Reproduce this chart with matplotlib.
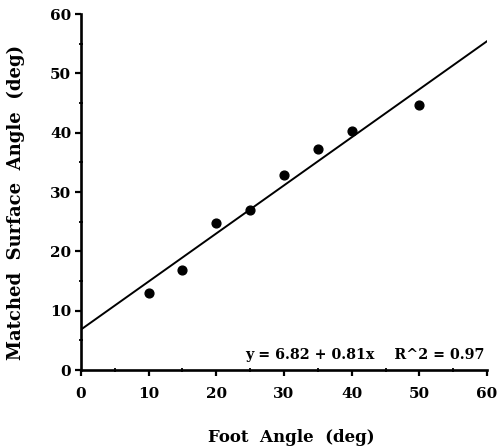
import matplotlib
matplotlib.use("Agg")
import matplotlib.pyplot as plt
import numpy as np
from matplotlib.ticker import MultipleLocator

foot_angle = [10, 15, 20, 25, 30, 35, 40, 50]
matched_angle = [12.9, 16.9, 24.7, 27.0, 32.8, 37.3, 40.2, 44.6]
intercept = 6.82
slope = 0.81
r_squared = 0.97
fit_x = [0, 60]
x_ticks = [0, 10, 20, 30, 40, 50, 60]
y_ticks = [0, 10, 20, 30, 40, 50, 60]

plt.rcParams['font.family'] = ['DejaVu Serif']
plt.rcParams['font.weight'] = 'bold'

fig = plt.figure(figsize=(4.99, 4.48), dpi=100)
ax = fig.add_axes([0.1623, 0.1741, 0.8137, 0.7946])

ax.scatter(foot_angle, matched_angle, s=40, color='black', zorder=3)
fx = np.array(fit_x)
ax.plot(fx, intercept + slope * fx, color='black', lw=1.4)

ax.set_xlim(0, 60)
ax.set_ylim(0, 60)
ax.set_xticks(x_ticks)
ax.set_yticks(y_ticks)
ax.xaxis.set_minor_locator(MultipleLocator(5))
ax.yaxis.set_minor_locator(MultipleLocator(5))
ax.tick_params(which='major', direction='out', length=4, width=1.6, labelsize=11)
ax.tick_params(axis='x', which='major', pad=8)
ax.tick_params(axis='y', which='major', pad=3)
ax.tick_params(which='minor', direction='inout', length=3, width=1.3)
for lab in ax.get_xticklabels() + ax.get_yticklabels():
    lab.set_fontweight('bold')

for s in ['top', 'right']:
    ax.spines[s].set_visible(False)
for s in ['left', 'bottom']:
    ax.spines[s].set_linewidth(1.9)

ax.set_xlabel('Foot  Angle  (deg)', fontsize=12, fontweight='bold')
ax.set_ylabel('Matched  Surface  Angle  (deg)', fontsize=13, fontweight='bold')
ax.xaxis.set_label_coords(0.517, -0.166)
ax.yaxis.set_label_coords(-0.138, 0.472)

ax.text(59.7, 1.3, f'y = {intercept} + {slope}x    R^2 = {r_squared}', ha='right', va='bottom',
        fontsize=10.3, fontweight='bold')

fig.savefig('out.png', dpi=100)
